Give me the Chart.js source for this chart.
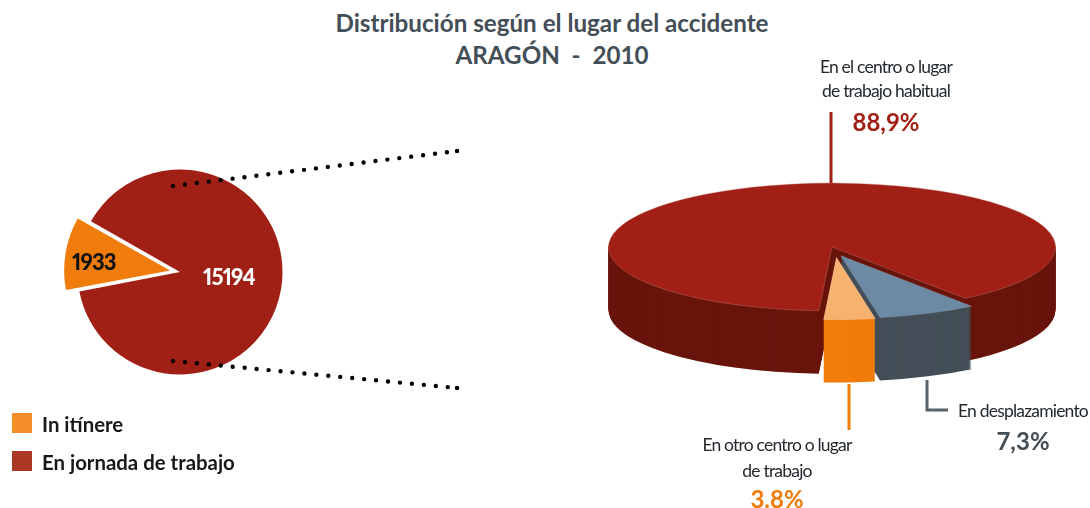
<!DOCTYPE html>
<html lang="es">
<head>
<meta charset="utf-8">
<title>Distribución según el lugar del accidente</title>
<script src="https://cdn.jsdelivr.net/npm/chart.js@4"></script>
<style>
  html, body { margin: 0; padding: 0; background: #fff; }
  body { position: relative; width: 1090px; height: 508px; overflow: hidden; font-family: Lato, sans-serif; }
  canvas { display: block; }
  .box { position: absolute; }
  #title { left: 232px; top: 7px; width: 640px; text-align: center; font-size: 24.2px; line-height: 32px; font-weight: 700; color: #434e57; }
  .legend-item { position: absolute; left: 42px; font-size: 20.4px; font-weight: 700; color: #15191c; line-height: 24px; white-space: nowrap; }
  .legend-swatch { position: absolute; left: -30px; top: 1px; width: 20px; height: 20px; }
  .callout { position: absolute; text-align: center; font-size: 17.5px; color: #23292e; white-space: nowrap; letter-spacing: -0.8px; }
  .callout b { display: block; font-size: 24px; line-height: 34px; font-weight: 700; letter-spacing: 0; }
  .inside { position: absolute; font-size: 22px; font-weight: 900; line-height: 26px; letter-spacing: -0.8px; font-variant-numeric: proportional-nums; }
  svg { position: absolute; left: 0; top: 0; }
</style>
</head>
<body>
<div id="title" class="box">Distribución según el lugar del accidente<br>ARAGÓN &nbsp;-&nbsp; 2010</div>

<div class="box" style="left:0;top:122px;width:360px;height:300px"><canvas id="left-pie"></canvas></div>
<div class="box" style="left:582px;top:100px;width:500px;height:294px"><canvas id="right-pie"></canvas></div>

<svg width="1090" height="508">
  <g fill="none" stroke="#000" stroke-width="4.4" stroke-linecap="round" stroke-dasharray="0 12">
    <line x1="173" y1="186" x2="457" y2="151"/>
    <line x1="173" y1="361" x2="457" y2="388"/>
    <line x1="457" y1="151" x2="457.1" y2="151" stroke-dasharray="none"/>
    <line x1="457" y1="388" x2="457.1" y2="388" stroke-dasharray="none"/>
  </g>
  <g fill="none" stroke-width="3">
    <line x1="831" y1="112" x2="831" y2="183" stroke="#a11f15"/>
    <line x1="849" y1="384" x2="849" y2="430" stroke="#f07c0b"/>
    <polyline points="927,380 927,410 948,410" stroke="#5a636b"/>
  </g>
</svg>

<div id="labels"></div>
<div id="legend"></div>

<script>
const lugarLabels = ['En el centro o lugar de trabajo habitual', 'En desplazamiento', 'En otro centro o lugar de trabajo'];
const lugarValues = [88.9, 7.3, 3.8];
const lugarText = ['88,9%', '7,3%', '3.8%'];

const tipoLabels = ['In itínere', 'En jornada de trabajo'];
const tipoValues = [1933, 15194];

const topColors = ['#a11f15', '#6c8aa3', '#f7b270'];
const sideColors = ['#69150c', '#434e57', '#f07c0b'];
const textColors = ['#a11f15', '#434e57', '#f07c0b'];
const legendColors = ['#f28d27', '#ab3824'];

// how the 3d pie is tilted, and how far the two small slices are pulled out
const tilt = 0.286;
const depth = 63;
const sliceShift = [[0, 0], [9, 31], [4.5, 37]];
const sliceScale = [1, 0.98, 0.97];

const pie3d = {
  id: 'pie3d',
  beforeDatasetDraw(chart, args) {
    const ctx = chart.ctx;
    const arcs = args.meta.data;
    const cx = arcs[0].x;
    const cy = arcs[0].y;

    function drawArc(i, arc, color, dy, border) {
      const saved = arc.options;
      const radius = arc.outerRadius;
      arc.options = Object.assign({}, saved, { backgroundColor: color, borderWidth: border ? 0.6 : 0 });
      arc.outerRadius = radius * sliceScale[i];
      ctx.save();
      ctx.translate(cx, cy + dy);
      ctx.scale(1, tilt);
      ctx.translate(sliceShift[i][0] - cx, sliceShift[i][1] - cy);
      arc.draw(ctx);
      ctx.restore();
      arc.options = saved;
      arc.outerRadius = radius;
    }

    arcs.forEach((arc, i) => {
      for (let d = depth; d > 0; d--) drawArc(i, arc, sideColors[i], d, false);
      drawArc(i, arc, topColors[i], 0, true);
    });
    return false;
  },
};

new Chart(document.getElementById('left-pie'), {
  type: 'pie',
  data: {
    labels: tipoLabels,
    datasets: [{
      data: tipoValues,
      backgroundColor: ['#f07c0b', '#a02015'],
      borderWidth: 0,
      offset: [40, 0],
    }],
  },
  options: {
    responsive: true,
    maintainAspectRatio: false,
    animation: false,
    rotation: 259,
    radius: 102.5,
    plugins: { legend: { display: false }, tooltip: { enabled: false } },
  },
});

new Chart(document.getElementById('right-pie'), {
  type: 'pie',
  data: {
    labels: lugarLabels,
    datasets: [{
      data: lugarValues,
      backgroundColor: topColors,
      borderColor: ['#c98078', '#8fa5b8', '#fbd3a8'],
      borderWidth: 0.6,
    }],
  },
  options: {
    responsive: true,
    maintainAspectRatio: false,
    animation: false,
    rotation: 183.4,
    radius: 223.5,
    plugins: { legend: { display: false }, tooltip: { enabled: false } },
  },
  plugins: [pie3d],
});

// texts over the left pie
const labelsEl = document.getElementById('labels');
const inside = [
  { left: 72, top: 249, color: '#111' },
  { left: 203, top: 264, color: '#fff' },
];
tipoValues.forEach((value, i) => {
  const el = document.createElement('div');
  el.className = 'inside';
  el.style.left = inside[i].left + 'px';
  el.style.top = inside[i].top + 'px';
  el.style.color = inside[i].color;
  el.textContent = value;
  labelsEl.appendChild(el);
});

// callouts of the 3d pie
const callouts = [
  { center: 886, top: 55, line: 23.5, gap: 3, lines: ['En el centro o lugar', 'de trabajo habitual'] },
  { center: 1023, top: 398, line: 25.5, gap: 0, lines: ['En desplazamiento'] },
  { center: 777, top: 432, line: 25.5, gap: -1, lines: ['En otro centro o lugar', 'de trabajo'] },
];
callouts.forEach((c, i) => {
  const el = document.createElement('div');
  el.className = 'callout';
  el.style.left = (c.center - 150) + 'px';
  el.style.width = '300px';
  el.style.top = c.top + 'px';
  el.style.lineHeight = c.line + 'px';
  el.innerHTML = c.lines.join('<br>') + `<b style="color:${textColors[i]};margin-top:${c.gap}px">${lugarText[i]}</b>`;
  labelsEl.appendChild(el);
});

const legendEl = document.getElementById('legend');
const legendTops = [412, 450];
tipoLabels.forEach((label, i) => {
  const item = document.createElement('div');
  item.className = 'legend-item';
  item.style.top = legendTops[i] + 'px';
  item.innerHTML = `<span class="legend-swatch" style="background:${legendColors[i]}"></span>${label}`;
  legendEl.appendChild(item);
});
</script>
</body>
</html>
